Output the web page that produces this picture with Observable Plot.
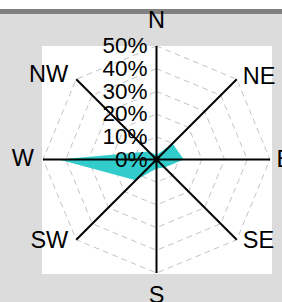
<!DOCTYPE html>
<html>
<head>
<meta charset="utf-8">
<script src="https://cdn.jsdelivr.net/npm/d3@7"></script>
<script src="https://cdn.jsdelivr.net/npm/@observablehq/plot@0.6"></script>
<style>
  html, body { margin: 0; padding: 0; background: #ffffff; }
  #wrap { position: relative; width: 282px; height: 302px; background: #dcdcdc; overflow: hidden; font-family: "Liberation Sans", Arial, sans-serif; }
  #topwhite { position: absolute; left: 0; top: 0; width: 282px; height: 9px; background: #ffffff; }
  #topbar { position: absolute; left: 0; top: 9px; width: 282px; height: 5px; background: #808080; }
  #panel { position: absolute; left: 42px; top: 46px; width: 230px; height: 228px; background: #ffffff; }
  #chart { position: absolute; left: 0; top: 0; }
  #chart svg { background: transparent !important; }
</style>
</head>
<body>
<div id="wrap">
  <div id="topwhite"></div>
  <div id="topbar"></div>
  <div id="panel"></div>
  <div id="chart"></div>
</div>
<script>
// Data
const directions = ["N", "NE", "E", "SE", "S", "SW", "W", "NW"];
const frequency = [2, 10, 12, 5, 4, 13, 43, 5]; // percent
const ringValues = [10, 20, 30, 40, 50];
const tickValues = [0, 10, 20, 30, 40, 50];
const tickLabels = ["0%", "10%", "20%", "30%", "40%", "50%"];
const maxValue = 50;

const toXY = (i, r) => {
  const a = i * Math.PI / 4;
  return {x: r * Math.sin(a), y: r * Math.cos(a)};
};

const rose = directions.map((d, i) => ({dir: d, ...toXY(i, frequency[i])}));
const rings = ringValues.flatMap(r => directions.map((d, i) => ({ring: r, ...toXY(i, r)})));
const spokes = directions.map((d, i) => ({dir: d, ...toXY(i, maxValue)}));
const ticks = tickValues.map((v, i) => ({v, label: tickLabels[i]}));
const center = [{x: 0, y: 0}];

const font = "Liberation Sans, Arial, sans-serif";
const fsDir = 23.5;
const fsTick = 22.5;
const lbl = (names, opts) => Plot.text(spokes.filter(d => names.includes(d.dir)),
  {x: "x", y: "y", text: "dir", fontSize: fsDir, fill: "black", fontFamily: font, ...opts});

const chart = Plot.plot({
  width: 282,
  height: 302,
  marginLeft: 42.5,
  marginRight: 12.5,
  marginTop: 45.5,
  marginBottom: 29.5,
  x: {domain: [-maxValue, maxValue], axis: null},
  y: {domain: [-maxValue, maxValue], axis: null},
  style: {background: "transparent", fontFamily: font, overflow: "visible"},
  marks: [
    Plot.line(rings, {x: "x", y: "y", z: "ring", curve: "linear-closed", stroke: "#c4c4c4", strokeWidth: 1, strokeDasharray: "5,5"}),
    Plot.line(rose, {x: "x", y: "y", curve: "linear-closed", fill: "#33cccc", stroke: "none"}),
    Plot.link(spokes, {x1: 0, y1: 0, x2: "x", y2: "y", stroke: "black", strokeWidth: 2}),
    Plot.dot(center, {x: "x", y: "y", r: 3, fill: "black"}),
    Plot.text(ticks, {x: 0, y: "v", text: "label", textAnchor: "end", dx: -9, fontSize: fsTick, fill: "black", fontFamily: font}),
    lbl(["N"], {dy: -26}),
    lbl(["S"], {dy: 22}),
    lbl(["E"], {textAnchor: "start", dx: 6.5}),
    lbl(["W"], {textAnchor: "end", dx: -9, dy: -1}),
    lbl(["NE"], {textAnchor: "start", dx: 6, dy: -3}),
    lbl(["SE"], {textAnchor: "start", dx: 6, dy: 1}),
    lbl(["NW"], {textAnchor: "end", dx: -8, dy: -5}),
    lbl(["SW"], {textAnchor: "end", dx: -8, dy: 1})
  ]
});
document.getElementById("chart").appendChild(chart);
</script>
</body>
</html>
